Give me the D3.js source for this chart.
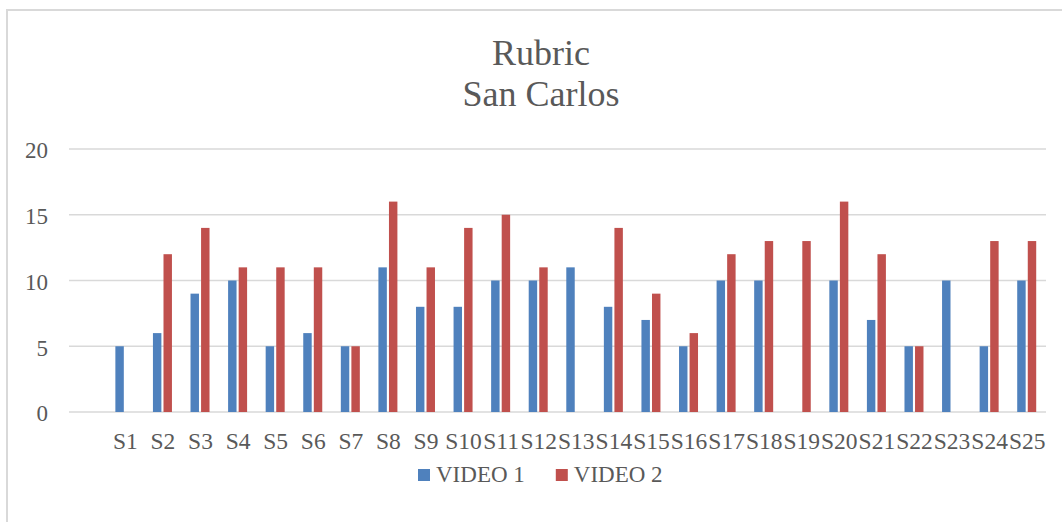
<!DOCTYPE html>
<html>
<head>
<meta charset="utf-8">
<script src="https://cdn.jsdelivr.net/npm/d3@7"></script>
<style>
  html, body { margin: 0; padding: 0; background: #ffffff; }
  svg { display: block; }
  text { font-family: "Liberation Serif", "Times New Roman", serif; fill: #595959; }
</style>
</head>
<body>
<svg id="chart" width="1062" height="522"></svg>
<script>
const titleLines = ["Rubric", "San Carlos"];
const categories = ["S1","S2","S3","S4","S5","S6","S7","S8","S9","S10","S11","S12","S13","S14","S15","S16","S17","S18","S19","S20","S21","S22","S23","S24","S25"];
const seriesNames = ["VIDEO 1", "VIDEO 2"];
const video1 = [5,6,9,10,5,6,5,11,8,8,10,10,11,8,7,5,10,10,0,10,7,5,10,5,10];
const video2 = [0,12,14,11,11,11,5,16,11,14,15,11,0,14,9,6,12,13,13,16,12,5,0,13,13];
const yTicks = [0,5,10,15,20];
const colors = ["#4f81bd", "#c0504d"];

const svg = d3.select("#chart");

// chart border
svg.append("rect")
  .attr("x", 7).attr("y", 10)
  .attr("width", 1200).attr("height", 700)
  .attr("fill", "none").attr("stroke", "#d9d9d9").attr("stroke-width", 2);

// title
svg.append("g").selectAll("text").data(titleLines).join("text")
  .attr("x", 541)
  .attr("y", (d, i) => 65 + i * 41)
  .attr("text-anchor", "middle")
  .style("font-size", "36px")
  .text(d => d);

const plotLeft = 69, plotRight = 1046, plotTop = 149, plotBottom = 412;

// category scale with a leading empty slot (as in the reference)
const x = d3.scaleBand()
  .domain([""].concat(categories))
  .range([plotLeft, plotRight])
  .paddingInner(0).paddingOuter(0);

const inner = d3.scaleBand()
  .domain(seriesNames)
  .range([-10, 9])
  .paddingInner(0.2);

const y = d3.scaleLinear().domain([0, 20]).range([plotBottom, plotTop]);

// gridlines
svg.append("g").selectAll("line").data(yTicks).join("line")
  .attr("x1", plotLeft).attr("x2", plotRight)
  .attr("y1", d => y(d)).attr("y2", d => y(d))
  .attr("stroke", "#d9d9d9").attr("stroke-width", 1.3);

// y axis labels
const yAxis = svg.append("g")
  .attr("transform", `translate(${plotLeft},0)`)
  .call(d3.axisLeft(y).tickValues(yTicks).tickSize(0).tickPadding(21));
yAxis.select(".domain").remove();
yAxis.selectAll("text")
  .attr("dy", "0.38em")
  .style("font-size", "23px")
  .style("font-family", '"Liberation Serif", "Times New Roman", serif')
  .attr("fill", "#595959");

// x axis labels
const xAxis = svg.append("g")
  .attr("transform", `translate(0,${plotBottom})`)
  .call(d3.axisBottom(x).tickValues(categories).tickSize(0).tickPadding(20));
xAxis.select(".domain").remove();
xAxis.selectAll("text")
  .style("font-size", "23.5px")
  .style("font-family", '"Liberation Serif", "Times New Roman", serif')
  .attr("fill", "#595959");

// bars
const data = categories.map((c, i) => ({ cat: c, values: [video1[i], video2[i]] }));
const groups = svg.append("g").selectAll("g").data(data).join("g")
  .attr("transform", d => `translate(${x(d.cat) + x.bandwidth() / 2},0)`);
groups.selectAll("rect")
  .data(d => d.values.map((v, j) => ({ name: seriesNames[j], v, j })))
  .join("rect")
  .attr("x", d => inner(d.name))
  .attr("width", inner.bandwidth())
  .attr("y", d => y(d.v))
  .attr("height", d => y(0) - y(d.v))
  .attr("fill", d => colors[d.j]);

// legend
const legend = svg.append("g");
let lx = 418;
seriesNames.forEach((name, i) => {
  legend.append("rect")
    .attr("x", lx).attr("y", 469)
    .attr("width", 12).attr("height", 12)
    .attr("fill", colors[i]);
  const t = legend.append("text")
    .attr("x", lx + 18).attr("y", 482)
    .style("font-size", "23px")
    .text(name);
  lx = lx + 18 + t.node().getComputedTextLength() + 31;
});
</script>
</body>
</html>
